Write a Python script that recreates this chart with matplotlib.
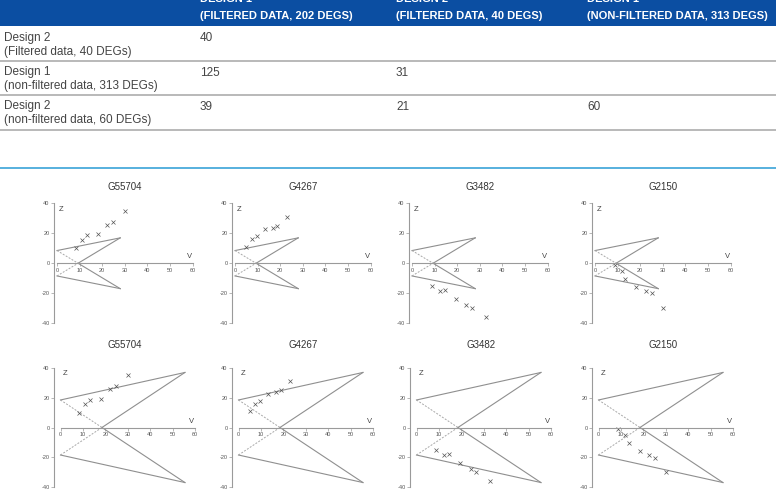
import numpy as np
import matplotlib
matplotlib.use('Agg')
import matplotlib.pyplot as plt
from matplotlib.lines import Line2D
from matplotlib.patches import Rectangle

plt.rcParams['font.family'] = ['Liberation Sans', 'DejaVu Sans']
plt.rcParams['axes.unicode_minus'] = False

# overlap table
col_heads = ['DESIGN 1', 'DESIGN 2', 'DESIGN 1']
col_subs = ['(FILTERED DATA, 202 DEGS)', '(FILTERED DATA, 40 DEGS)', '(NON-FILTERED DATA, 313 DEGS)']
row_heads = ['Design 2', 'Design 1', 'Design 2']
row_subs = ['(Filtered data, 40 DEGs)', '(non-filtered data, 313 DEGs)', '(non-filtered data, 60 DEGs)']
overlap = [['40', '', ''], ['125', '31', ''], ['39', '21', '60']]

# V-Z plots, one gene per column
genes = ['G55704', 'G4267', 'G3482', 'G2150']
v_vals = [[8.3, 11.1, 13.2, 18.2, 22.2, 24.6, 30.3],
          [5.0, 7.5, 9.6, 13.1, 16.8, 18.8, 23.1],
          [8.9, 12.3, 14.5, 19.4, 24.1, 26.4, 32.9],
          [8.7, 11.9, 13.5, 18.3, 22.6, 25.1, 30.3]]
z_vals = [[10.0, 15.7, 18.7, 19.3, 25.6, 27.8, 35.0],
          [11.1, 16.1, 18.1, 22.8, 23.9, 25.0, 31.0],
          [-15.3, -18.6, -18.0, -24.1, -27.8, -30.1, -35.9],
          [-1.2, -5.0, -10.5, -15.8, -18.4, -20.2, -29.9]]

# boundary wedge: (V max, Z at V=0, Z at V max), top row and bottom row
wedge_top = (28.0, 8.5, 17.0)
wedge_bottom = (55.5, 18.5, 37.0)

W, H = 776, 496
fig = plt.figure(figsize=(W / 100, H / 100), dpi=100)

def fx(x):
    return x / W

def fy(y):
    return 1 - y / H

# ---- table ----
blue = '#0b4ea2'
fig.patches.append(Rectangle((0, fy(26)), 1, 26 / H, transform=fig.transFigure,
                             facecolor=blue, edgecolor='none'))
col_x = [200, 396, 587]
for i in range(3):
    fig.text(fx(col_x[i]), fy(2.5), col_heads[i], color='white', fontsize=8,
             fontweight='bold', va='baseline', ha='left')
    fig.text(fx(col_x[i]), fy(19), col_subs[i], color='white', fontsize=8,
             fontweight='bold', va='baseline', ha='left')

row_base = [41, 75.5, 109.5]
for i in range(3):
    b = row_base[i]
    fig.text(fx(4), fy(b), row_heads[i], color='#444444', fontsize=8.5, va='baseline')
    fig.text(fx(4), fy(b + 13.5), row_subs[i], color='#444444', fontsize=8.5, va='baseline')
    for j in range(3):
        if overlap[i][j]:
            fig.text(fx(col_x[j]), fy(b), overlap[i][j], color='#444444',
                     fontsize=8.5, va='baseline')
for y in [61, 95, 130]:
    fig.lines.append(Line2D([0, 1], [fy(y), fy(y)], transform=fig.transFigure,
                            color='#a5a5a5', lw=1.1))
fig.lines.append(Line2D([0, 1], [fy(168), fy(168)], transform=fig.transFigure,
                        color='#3aa3d8', lw=1.2))

# ---- V-Z panels ----
def panel(spine, v0, v60, z40, zm40, title_y, wedge, vv, zz, name):
    sx = (v60 - v0) / 60.0
    sy = (zm40 - z40) / 80.0
    xmin = (spine - v0) / sx
    xmax = 63
    top = z40 - 2 * sy
    wpx = (xmax - xmin) * sx
    hpx = 84 * sy
    ax = fig.add_axes([fx(spine), fy(top + hpx), wpx / W, hpx / H])
    ax.set_xlim(xmin, xmax)
    ax.set_ylim(-42, 42)
    ax.patch.set_visible(False)
    for s in ['top', 'right']:
        ax.spines[s].set_visible(False)
    ax.spines['left'].set_bounds(-40, 40)
    ax.spines['bottom'].set_position(('data', 0))
    ax.spines['bottom'].set_bounds(0, 60)
    for s in ['left', 'bottom']:
        ax.spines[s].set_color('#9a9a9a')
        ax.spines[s].set_linewidth(0.8)
    ax.set_xticks(range(0, 61, 10))
    ax.set_yticks(range(-40, 41, 20))
    ax.tick_params(labelsize=4, length=2, width=0.5, color='#9a9a9a',
                   labelcolor='#555555', pad=1.2)

    vm, z0, zm = wedge
    vc = z0 * vm / (z0 + zm)
    c = '#8f8f8f'
    ax.plot([0, vm], [z0, zm], color=c, lw=0.8)
    ax.plot([0, vm], [-z0, -zm], color=c, lw=0.8)
    ax.plot([vc, vm], [0, -zm], color=c, lw=0.8)
    ax.plot([vc, vm], [0, zm], color=c, lw=0.8)
    ax.plot([0, vc], [z0, 0], color='#a8a8a8', lw=0.7, dashes=(2, 1.5))
    ax.plot([0, vc], [-z0, 0], color='#a8a8a8', lw=0.7, dashes=(2, 1.5))

    ax.plot(vv, zz, 'x', color='#555555', markersize=2.6, markeredgewidth=0.5)
    ax.text(0.8, 36, 'Z', fontsize=5.5, color='#444444', va='center', ha='left')
    ax.text(58.5, 4.2, 'V', fontsize=5.5, color='#444444', va='center', ha='center')
    fig.text(fx(spine + 71), fy(title_y), name, fontsize=7, color='#333333',
             ha='center', va='center')

top_spines = [54, 232, 409, 592]
bottom_spines = [54, 232, 410, 592]
for k in range(4):
    s = top_spines[k]
    panel(s, s + 3, s + 138.5, 203.5, 323, 187, wedge_top, v_vals[k], z_vals[k], genes[k])
for k in range(4):
    s = bottom_spines[k]
    panel(s, s + 6.5, s + 141, 368, 487, 345, wedge_bottom, v_vals[k], z_vals[k], genes[k])

fig.savefig('out.png', dpi=100)
